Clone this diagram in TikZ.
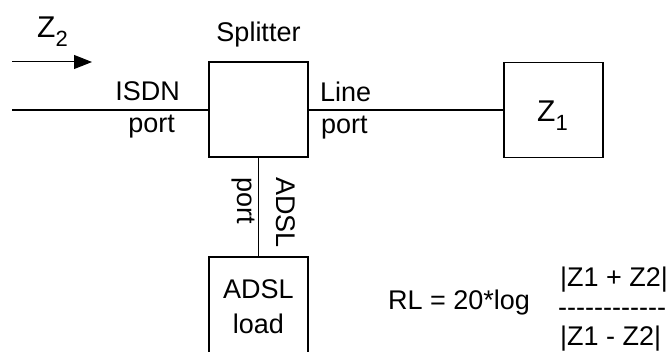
\documentclass[tikz,border=0pt]{standalone}
\usepackage{fontspec}
\setmainfont{Liberation Sans}
\usetikzlibrary{arrows.meta,positioning}
\newcommand{\subtxt}[1]{\raisebox{-9pt}{\fontsize{22}{24}\selectfont #1}}
\newcommand{\hy}{-\kern0pt}

\begin{document}
\begin{tikzpicture}[
    x=1pt, y=-1pt,
    blk/.style={draw, line width=1.5pt, minimum width=99pt, minimum height=95pt,
                inner sep=0pt, font=\fontsize{27}{35}\selectfont, align=center},
    wire/.style={line width=1.5pt},
    lbl/.style={font=\fontsize{27}{35}\selectfont, inner sep=0pt},
    zlbl/.style={font=\fontsize{30}{35}\selectfont, inner sep=0pt},
    flow/.style={-{Triangle[length=18pt, width=14pt]}, line width=1pt},
  ]
    \useasboundingbox (0,0) rectangle (669,352);
    \clip (0,0) rectangle (669,352);

    % Boxes
    \node[blk] (split) at (258.5,109.5) {};
    \node[blk] (zone) at (553.5,110) {};
    \node[blk, minimum height=100pt] (load) at (258.5,307) {ADSL\\load};

    % Wires
    \coordinate (isdn) at (12,110);
    \draw[wire] (isdn) -- (isdn -| split.west);
    \draw[wire] (split.east |- zone.west) -- (zone.west);
    \draw[wire] (split.south) -- (load.north);

    % Direction of Z2
    \coordinate (fstart) at (12,62);
    \coordinate (fend) at (92,62);
    \draw[flow] (fstart) -- (fend);

    % Labels
    \node[zlbl, anchor=base west] (ztwo) at (37,38) {Z\subtxt{2}};
    \node[lbl, anchor=base] (splitlbl) at (258.5,42) {Splitter};
    \node[lbl, anchor=base east] (isdnlbl) at (180,101) {ISDN};
    \node[lbl, anchor=base east] (isdnport) at (175,133) {port};
    \node[lbl, anchor=base west] (linelbl) at (320,102) {Line};
    \node[lbl, anchor=base west] (lineport) at (321,134) {port};
    \node[zlbl, anchor=base west] (zonelbl) at (537,122) {Z\subtxt{1}};
    \node[lbl, anchor=base west, rotate=-90] (adslport) at (237,177) {port};
    \node[lbl, anchor=base west, rotate=-90] (adsllbl) at (276,177) {ADSL};

    % Return loss
    \node[lbl, anchor=base west] (rl) at (388,310) {RL = 20*log};
    \node[lbl, anchor=base west] (num) at (560,287) {|Z1 + Z2|};
    \node[lbl, anchor=base west] (bar) at (558,317) {\hy\hy\hy\hy\hy\hy\hy\hy\hy\hy\hy\hy};
    \node[lbl, anchor=base west] (den) at (560,345) {|Z1 - Z2|};
\end{tikzpicture}
\end{document}
